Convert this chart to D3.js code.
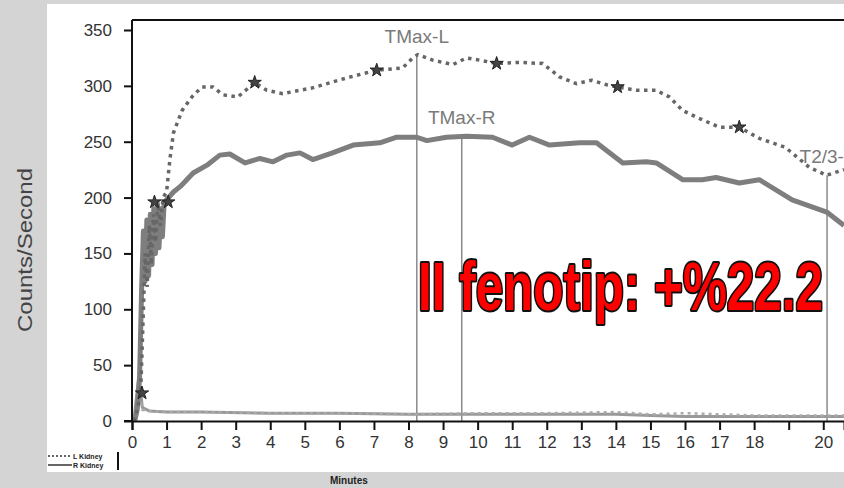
<!DOCTYPE html>
<html>
<head>
<meta charset="utf-8">
<script src="https://cdn.jsdelivr.net/npm/d3@7"></script>
<style>
  body { margin: 0; background: #d4d4d4; }
  svg { display: block; }
</style>
</head>
<body>
<div id="chart"></div>
<script>
// minutes / counts per second
const leftMin = [0.05, 0.15, 0.25, 0.32, 0.38, 0.44, 0.5, 0.56, 0.62, 0.68, 0.75, 0.82, 0.9, 1.0, 1.1, 1.2, 1.45, 1.73, 2.02, 2.34, 2.63, 3.06, 3.55, 3.9, 4.36, 4.85, 5.2, 6.2, 7.08, 7.83, 8.12, 8.27, 8.7, 9.28, 9.68, 10.06, 10.55, 11.2, 11.88, 12.37, 12.86, 13.3, 13.73, 14.05, 14.6, 15.17, 15.55, 15.93, 16.4, 16.99, 17.57, 18.15, 18.9, 19.6, 20.1, 20.6];
const leftVal = [0, 10, 25, 90, 150, 120, 175, 140, 185, 160, 195, 175, 200, 205, 235, 258, 278, 290, 299, 299, 292, 290, 303, 296, 293, 296, 298, 307, 314, 316, 325, 328, 323, 319, 325, 323, 320, 321, 320, 308, 302, 305, 301, 299, 296, 296, 290, 278, 271, 263, 263, 253, 245, 227, 220, 225];

const rightMin = [0.08, 0.15, 0.22, 0.28, 0.33, 0.38, 0.43, 0.48, 0.53, 0.58, 0.63, 0.68, 0.73, 0.78, 0.83, 0.88, 0.93, 1.0, 1.2, 1.4, 1.77, 2.17, 2.54, 2.83, 3.27, 3.7, 4.08, 4.48, 4.86, 5.23, 5.8, 6.4, 7.17, 7.66, 8.24, 8.53, 9.1, 9.68, 10.43, 11.0, 11.5, 12.08, 12.95, 13.44, 14.2, 14.88, 15.17, 15.93, 16.5, 16.9, 17.57, 18.15, 19.1, 20.1, 20.6];
const rightVal = [0, 10, 40, 120, 170, 125, 180, 130, 185, 140, 190, 150, 195, 155, 190, 165, 195, 198, 205, 210, 222, 229, 238, 239, 231, 235, 232, 238, 240, 234, 240, 247, 249, 254, 254, 251, 254, 255, 254, 247, 254, 247, 249, 249, 231, 232, 231, 216, 216, 218, 213, 216, 198, 187, 175];

const bkgMin = [0.05, 0.2, 0.3, 0.5, 1, 2, 4, 6, 8, 10, 12, 14, 15, 16, 18, 20, 20.6];
const bkgRight = [0, 40, 12, 9, 8, 8, 7, 7, 6, 6, 6, 6, 5, 4, 4, 4, 4];
const bkgLeft = [0, 30, 10, 9, 8, 8, 7, 7, 6, 7, 7, 8, 6, 7, 5, 5, 5];

const starMin = [0.29, 0.65, 1.05, 3.55, 7.08, 10.55, 14.05, 17.57];
const starVal = [25, 196, 196, 303, 314, 320, 299, 263];

const markerName = ["TMax-L", "TMax-R", "T2/3-L"];
const markerMin = [8.24, 9.54, 20.11];
const markerVal = [328, 255, 220];

const yTicks = [0, 50, 100, 150, 200, 250, 300, 350];
const xTicks = d3.range(0, 21);
const xTickLabels = ["0", "1", "2", "3", "4", "5", "6", "7", "8", "9", "10", "11", "12", "13", "14", "15", "16", "17", "18", "", "20"];

const W = 844, H = 488;
const svg = d3.select("#chart").append("svg").attr("width", W).attr("height", H);

svg.append("rect").attr("width", W).attr("height", H).attr("fill", "#d4d4d4");
svg.append("rect").attr("x", 47).attr("y", 4).attr("width", W - 47).attr("height", 468).attr("fill", "#fff");

const x = d3.scaleLinear().domain([0, 20.6]).range([132, 844]);
const y = d3.scaleLinear().domain([0, 350]).range([421, 30]);

// frame
svg.append("line").attr("x1", 132).attr("x2", W).attr("y1", 20).attr("y2", 20)
  .attr("stroke", "#111").attr("stroke-width", 2);

const line = d3.line().x(d => x(d[0])).y(d => y(d[1]));

// markers
markerName.forEach((name, i) => {
  svg.append("line")
    .attr("x1", x(markerMin[i])).attr("x2", x(markerMin[i]))
    .attr("y1", y(markerVal[i])).attr("y2", y(0))
    .attr("stroke", "#8a8a8a").attr("stroke-width", 1.5);
  svg.append("text")
    .attr("x", x(markerMin[i])).attr("y", y(markerVal[i]) - 12)
    .attr("text-anchor", "middle")
    .attr("font-family", "Liberation Sans, Arial, sans-serif")
    .attr("font-size", 19).attr("fill", "#7a7a7a")
    .text(name);
});

// background curves
svg.append("path").datum(bkgMin.map((m, i) => [m, bkgRight[i]]))
  .attr("d", line).attr("fill", "none").attr("stroke", "#999").attr("stroke-width", 3);
svg.append("path").datum(bkgMin.map((m, i) => [m, bkgLeft[i]]))
  .attr("d", line).attr("fill", "none").attr("stroke", "#aaa").attr("stroke-width", 2.5)
  .attr("stroke-dasharray", "3 4");

// right kidney (solid)
svg.append("path").datum(rightMin.map((m, i) => [m, rightVal[i]]))
  .attr("d", line).attr("fill", "none").attr("stroke", "#7e7e7e")
  .attr("stroke-width", 5).attr("stroke-linejoin", "round");

// left kidney (dotted)
svg.append("path").datum(leftMin.map((m, i) => [m, leftVal[i]]))
  .attr("d", line).attr("fill", "none").attr("stroke", "#666")
  .attr("stroke-width", 3.5).attr("stroke-dasharray", "3.5 4.5");

// stars on left curve
const star = d3.symbol().type(d3.symbolStar).size(55);
svg.selectAll(".star").data(starMin.map((m, i) => [m, starVal[i]]))
  .join("path").attr("class", "star")
  .attr("transform", d => `translate(${x(d[0])},${y(d[1])})`)
  .attr("d", star).attr("fill", "#444").attr("stroke", "#222").attr("stroke-width", 1);

// axes
const yAxis = svg.append("g").attr("transform", "translate(132,0)")
  .call(d3.axisLeft(y).tickValues(yTicks).tickSize(8).tickPadding(12));
const xAxis = svg.append("g").attr("transform", `translate(0,${y(0)})`)
  .call(d3.axisBottom(x).tickValues(xTicks).tickSize(9).tickPadding(6)
    .tickFormat((d, i) => xTickLabels[i]));

[yAxis, xAxis].forEach(g => {
  g.select(".domain").attr("stroke", "#111").attr("stroke-width", 2);
  g.selectAll(".tick line").attr("stroke", "#111").attr("stroke-width", 2);
  g.selectAll(".tick text").attr("font-family", "Liberation Sans, Arial, sans-serif")
    .attr("font-size", 17).attr("fill", "#333");
});
yAxis.select(".domain").attr("d", `M-8,${y(0)}H0V20`);

// axis titles
svg.append("text")
  .attr("transform", `translate(32,${250}) rotate(-90)`)
  .attr("text-anchor", "middle")
  .attr("font-family", "Liberation Sans, Arial, sans-serif")
  .attr("font-size", 20).attr("fill", "#444")
  .attr("textLength", 164).attr("lengthAdjust", "spacingAndGlyphs")
  .text("Counts/Second");

svg.append("text")
  .attr("x", 330).attr("y", 484)
  .attr("font-family", "Liberation Sans, Arial, sans-serif")
  .attr("font-size", 10).attr("font-weight", "bold").attr("fill", "#222")
  .text("Minutes");

// legend
const lg = svg.append("g").attr("transform", "translate(48,456)");
lg.append("line").attr("x1", 0).attr("x2", 24).attr("stroke", "#666")
  .attr("stroke-width", 2).attr("stroke-dasharray", "2 2");
lg.append("line").attr("x1", 0).attr("x2", 24).attr("y1", 9).attr("y2", 9)
  .attr("stroke", "#666").attr("stroke-width", 2);
lg.append("text").attr("x", 25).attr("y", 3).attr("font-size", 7).attr("font-weight", "bold")
  .attr("font-family", "Liberation Sans, Arial, sans-serif").attr("fill", "#222").text("L Kidney");
lg.append("text").attr("x", 25).attr("y", 12).attr("font-size", 7).attr("font-weight", "bold")
  .attr("font-family", "Liberation Sans, Arial, sans-serif").attr("fill", "#222").text("R Kidney");
lg.append("line").attr("x1", 70).attr("x2", 70).attr("y1", -4).attr("y2", 14)
  .attr("stroke", "#111").attr("stroke-width", 2);

// annotation
svg.append("text")
  .attr("x", 418).attr("y", 310)
  .attr("font-family", "Liberation Sans Narrow, Arial Narrow, Liberation Sans, sans-serif")
  .attr("font-size", 68).attr("font-weight", "bold")
  .attr("fill", "#ff0000").attr("stroke", "#111").attr("stroke-width", 4)
  .attr("paint-order", "stroke").attr("stroke-linejoin", "round")
  .attr("textLength", 405).attr("lengthAdjust", "spacingAndGlyphs")
  .text("II fenotip: +%22.2");
</script>
</body>
</html>
